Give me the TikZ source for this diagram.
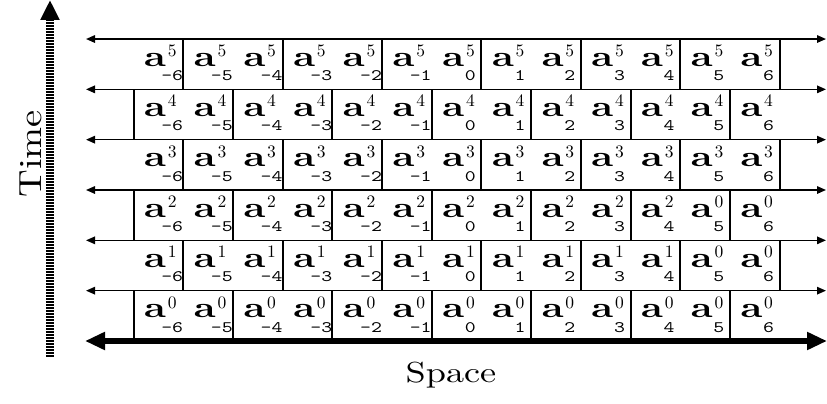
\documentclass[tikz,border=0pt]{standalone}
\usepackage{fontspec}
\usetikzlibrary{arrows.meta}
\newfontfamily\fA[FakeStretch=1.35]{lmroman10-bold.otf}
\newfontfamily\fSup{lmroman10-regular.otf}
\newfontfamily\fSub[FakeStretch=1.3]{lmmono10-regular.otf}
\newfontfamily\fSpace[FakeStretch=1.25]{lmroman10-regular.otf}
\newfontfamily\fTime[FakeStretch=1.2]{lmroman10-regular.otf}
\newcommand\supsub[2]{\makebox[0pt][c]{\raisebox{24pt}{\fSup\fontsize{17.5}{20}\selectfont #1}}\makebox[0pt][c]{\fSub\fontsize{16}{19}\selectfont #2}}
\tikzset{
  afont/.style={inner sep=0pt, anchor=base, font={\fA\fontsize{29}{34}\selectfont}},
  indexfont/.style={inner sep=0pt, anchor=base},
  rowline/.style={line width=1.5pt, {Triangle[length=9pt,width=7.5pt]}-{Triangle[length=9pt,width=7.5pt]}},
  bottomline/.style={line width=5.5pt, {Triangle[length=20pt,width=17pt]}-{Triangle[length=20pt,width=17pt]}},
  divider/.style={line width=2pt},
  timearrow/.style={line width=7.5pt, dash pattern=on 1.6pt off 1.4pt, -{Triangle[length=20pt,width=18pt]}},
}
\begin{document}
\begin{tikzpicture}[x=1pt,y=1pt]
\useasboundingbox (0,0) rectangle (827,404);
% row lines
\foreach \j in {1,...,6} {
  \pgfmathsetmacro\Y{63+50.33*\j}
  \coordinate (hl\j) at (86,\Y);
  \coordinate (hr\j) at (826,\Y);
  \draw[rowline] (hl\j) -- (hr\j);
}
\coordinate (hl0) at (85,63);
\coordinate (hr0) at (827,63);
\draw[bottomline] (hl0) -- (hr0);
% dividers
\foreach \r in {0,...,5} {
  \pgfmathsetmacro\Yb{63+50.33*\r}
  \pgfmathsetmacro\Yt{63+50.33*(\r+1)}
  \pgfmathtruncatemacro\rp{mod(\r,2)}
  \foreach \k in {0,...,13} {
    \pgfmathtruncatemacro\kp{mod(\k,2)}
    \ifnum\kp=\rp
      \pgfmathsetmacro\X{133.5+49.7*\k}
      \coordinate (db\r-\k) at (\X,\Yb);
      \coordinate (dt\r-\k) at (\X,\Yt);
      \draw[divider] (db\r-\k) -- (dt\r-\k);
    \fi
  }
}
% cell labels
\foreach \r in {0,...,5} {
  \pgfmathsetmacro\Yt{113.33+50.33*\r}
  \foreach \k in {0,...,12} {
    \pgfmathsetmacro\Lx{133.5+49.7*\k}
    \pgfmathtruncatemacro\ii{\k-6}
    \pgfmathtruncatemacro\ss{ifthenelse(and(or(\r==1,\r==2),\k>10),0,\r)}
    \node[afont] (a\r-\k) at (\Lx+21.6,\Yt-27) {a};
    \node[indexfont] (x\r-\k) at (\Lx+38.7,\Yt-41.5) {\supsub{\ss}{\ii}};
  }
}
% axes labels
\node[inner sep=0pt, anchor=base, font={\fSpace\fontsize{29}{34}\selectfont}] (space) at (451,21) {Space};
\node[inner sep=0pt, rotate=90, font={\fTime\fontsize{32}{38}\selectfont}] (time) at (31,250) {Time};
\coordinate (tb) at (50,47);
\coordinate (tt) at (50,404);
\draw[timearrow] (tb) -- (tt);
\end{tikzpicture}
\end{document}
